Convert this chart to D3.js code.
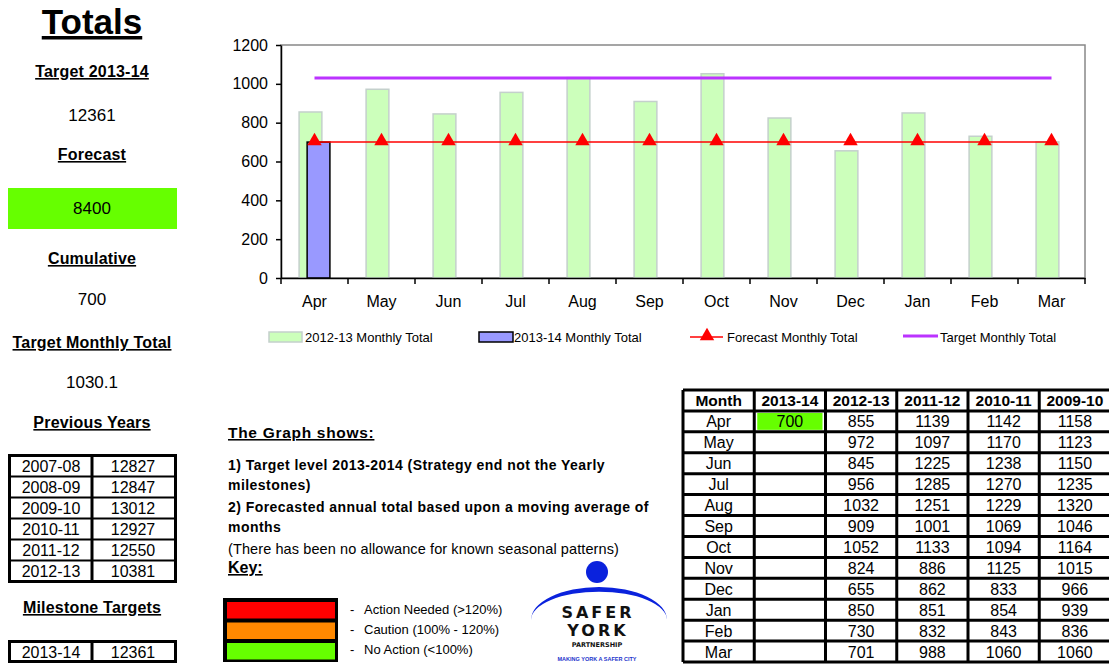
<!DOCTYPE html>
<html>
<head lang="en">
    <meta charset="UTF-8">
    <title>Totals</title>
    <style>
        body { margin: 0; background: #fff; }
        svg { font-family: "Liberation Sans", Arial, sans-serif; display: block; }
        .u { text-decoration: underline; }
    </style>
</head>
<body>
<svg width="1109" height="668"></svg>

<script src="https://cdnjs.cloudflare.com/ajax/libs/d3/7.8.5/d3.min.js"></script>
<script>
    // --- data ---
    var months = ["Apr","May","Jun","Jul","Aug","Sep","Oct","Nov","Dec","Jan","Feb","Mar"];
    var total2013_14 = [700];
    var total2012_13 = [855,972,845,956,1032,909,1052,824,655,850,730,701];
    var total2011_12 = [1139,1097,1225,1285,1251,1001,1133,886,862,851,832,988];
    var total2010_11 = [1142,1170,1238,1270,1229,1069,1094,1125,833,854,843,1060];
    var total2009_10 = [1158,1123,1150,1235,1320,1046,1164,1015,966,939,836,1060];
    var forecastMonthly = [700,700,700,700,700,700,700,700,700,700,700,700];
    var targetMonthly = 1030.1;
    var yTicks = [0,200,400,600,800,1000,1200];

    var prevYears = ["2007-08","2008-09","2009-10","2010-11","2011-12","2012-13"];
    var prevTotals = [12827,12847,13012,12927,12550,10381];
    var milestoneYears = ["2013-14"];
    var milestoneTargets = [12361];

    var target2013_14 = 12361, forecastTotal = 8400, cumulative = 700;

    var svg = d3.select("svg");

    // ---------- chart ----------
    var x = d3.scaleBand().domain(months).range([281, 1085]);
    var y = d3.scaleLinear().domain([0, 1200]).range([278, 45]);
    var bw = x.bandwidth();

    var chart = svg.append("g");

    // plot frame (top/right grey)
    chart.append("rect")
        .attr("x", 281).attr("y", y(1200))
        .attr("width", 1085 - 281).attr("height", y(0) - y(1200))
        .attr("fill", "none").attr("stroke", "#888").attr("stroke-width", 1.5);

    chart.selectAll(".g12")
        .data(total2012_13)
        .enter().append("rect")
        .attr("x", function(d, i) { return x(months[i]) + bw * 0.27; })
        .attr("y", function(d) { return y(d); })
        .attr("width", bw * 0.34)
        .attr("height", function(d) { return y(0) - y(d); })
        .attr("fill", "#ccffbb")
        .attr("stroke", "#c4d0cc").attr("stroke-width", 1.5);

    chart.selectAll(".b13")
        .data(total2013_14)
        .enter().append("rect")
        .attr("x", function(d, i) { return x(months[i]) + bw * 0.39; })
        .attr("y", function(d) { return y(d); })
        .attr("width", bw * 0.34)
        .attr("height", function(d) { return y(0) - y(d); })
        .attr("fill", "#9999ff")
        .attr("stroke", "#000").attr("stroke-width", 1.5);

    // target line
    chart.append("line")
        .attr("x1", x(months[0]) + bw / 2).attr("x2", x(months[11]) + bw / 2)
        .attr("y1", y(targetMonthly)).attr("y2", y(targetMonthly))
        .attr("stroke", "#bb33ff").attr("stroke-width", 3);

    // forecast line
    var line = d3.line()
        .x(function(d, i) { return x(months[i]) + bw / 2; })
        .y(function(d) { return y(d); });
    chart.append("path")
        .datum(forecastMonthly)
        .attr("d", line)
        .attr("fill", "none").attr("stroke", "#ff0000").attr("stroke-width", 1.5);

    var tri = d3.symbol().type(d3.symbolTriangle).size(90);
    chart.selectAll(".tri")
        .data(forecastMonthly)
        .enter().append("path")
        .attr("d", tri)
        .attr("transform", function(d, i) { return "translate(" + (x(months[i]) + bw / 2) + "," + (y(d) - 1) + ")"; })
        .attr("fill", "#ff0000");

    // axes
    var yAxis = chart.append("g")
        .attr("transform", "translate(281,0)")
        .call(d3.axisLeft(y).tickValues(yTicks).tickFormat(d3.format("d")).tickSize(5).tickSizeOuter(0).tickPadding(8));
    yAxis.selectAll("text").attr("font-size", 16).attr("font-family", "Liberation Sans, Arial").attr("fill", "#000");
    yAxis.selectAll("line").attr("stroke", "#000").attr("stroke-width", 1.5);
    yAxis.select(".domain").attr("stroke", "#000").attr("stroke-width", 1.5);

    var xAxis = chart.append("g")
        .attr("transform", "translate(0," + y(0) + ")")
        .call(d3.axisBottom(x).tickSize(0).tickPadding(18));
    xAxis.selectAll("text").attr("font-size", 16).attr("font-family", "Liberation Sans, Arial").attr("fill", "#000");
    xAxis.select(".domain").attr("stroke", "#000").attr("stroke-width", 1.5);
    chart.selectAll(".xt")
        .data(months.concat(["end"]))
        .enter().append("line")
        .attr("x1", function(d, i) { return i < 12 ? x(d) : 1085; })
        .attr("x2", function(d, i) { return i < 12 ? x(d) : 1085; })
        .attr("y1", y(0)).attr("y2", y(0) + 6)
        .attr("stroke", "#000").attr("stroke-width", 1.5);

    // legend
    var lg = chart.append("g").attr("font-size", 13).attr("fill", "#000");
    lg.append("rect").attr("x", 269).attr("y", 332).attr("width", 33).attr("height", 10)
        .attr("fill", "#ccffbb").attr("stroke", "#c4d0cc").attr("stroke-width", 1.5);
    lg.append("text").attr("x", 305).attr("y", 342).text("2012-13 Monthly Total");
    lg.append("rect").attr("x", 479).attr("y", 332).attr("width", 34).attr("height", 10)
        .attr("fill", "#9999ff").attr("stroke", "#000").attr("stroke-width", 1.5);
    lg.append("text").attr("x", 514).attr("y", 342).text("2013-14 Monthly Total");
    lg.append("line").attr("x1", 690).attr("x2", 723).attr("y1", 337).attr("y2", 337)
        .attr("stroke", "#ff0000").attr("stroke-width", 1.5);
    lg.append("path").attr("d", tri).attr("transform", "translate(707,336)").attr("fill", "#ff0000");
    lg.append("text").attr("x", 727).attr("y", 342).text("Forecast Monthly Total");
    lg.append("line").attr("x1", 903).attr("x2", 938).attr("y1", 336).attr("y2", 336)
        .attr("stroke", "#bb33ff").attr("stroke-width", 3);
    lg.append("text").attr("x", 940).attr("y", 342).text("Target Monthly Total");

    // ---------- left panel ----------
    var left = svg.append("g").attr("text-anchor", "middle").attr("fill", "#000");
    left.append("text").attr("class", "u").attr("x", 92).attr("y", 34)
        .attr("font-size", 35).attr("font-weight", "bold").text("Totals");

    var heads = [
        ["Target 2013-14", 77], ["Forecast", 160], ["Cumulative", 264],
        ["Target Monthly Total", 348], ["Previous Years", 428], ["Milestone Targets", 613]
    ];
    heads.forEach(function(h) {
        left.append("text").attr("class", "u").attr("x", 92).attr("y", h[1])
            .attr("font-size", 16).attr("font-weight", "bold").attr("letter-spacing", 0.2).text(h[0]);
    });

    left.append("rect").attr("x", 8).attr("y", 188).attr("width", 169).attr("height", 41).attr("fill", "#66ff00");
    [[target2013_14, 121], [forecastTotal, 214], [cumulative, 305], [targetMonthly, 388]].forEach(function(v) {
        left.append("text").attr("x", 92).attr("y", v[1]).attr("font-size", 17).text(v[0]);
    });

    function smallTable(g, labels, vals, top, rowH) {
        var n = labels.length;
        g.append("rect").attr("x", 9.5).attr("y", top).attr("width", 166).attr("height", rowH * n)
            .attr("fill", "#fff").attr("stroke", "#000").attr("stroke-width", 3);
        g.append("line").attr("x1", 92).attr("x2", 92).attr("y1", top).attr("y2", top + rowH * n)
            .attr("stroke", "#000").attr("stroke-width", 3);
        for (var i = 1; i < n; i++) {
            g.append("line").attr("x1", 9.5).attr("x2", 175.5)
                .attr("y1", top + rowH * i).attr("y2", top + rowH * i)
                .attr("stroke", "#000").attr("stroke-width", 2);
        }
        labels.forEach(function(l, i) {
            g.append("text").attr("x", 51).attr("y", top + rowH * i + rowH / 2 + 6).attr("font-size", 16).text(l);
            g.append("text").attr("x", 133).attr("y", top + rowH * i + rowH / 2 + 6).attr("font-size", 16).text(vals[i]);
        });
    }
    smallTable(left, prevYears, prevTotals, 455.5, 21);
    smallTable(left, milestoneYears, milestoneTargets, 641.5, 20);

    // ---------- notes ----------
    var notes = svg.append("g").attr("fill", "#000");
    notes.append("text").attr("class", "u").attr("x", 228).attr("y", 438)
        .attr("font-size", 15.5).attr("font-weight", "bold").attr("letter-spacing", 0.7).text("The Graph shows:");
    var lines = [
        ["1) Target level 2013-2014 (Strategy end not the Yearly", 470, true],
        ["milestones)", 490, true],
        ["2) Forecasted annual total based upon a moving average of", 512, true],
        ["months", 532, true],
        ["(There has been no allowance for known seasonal patterns)", 554, false]
    ];
    lines.forEach(function(l) {
        notes.append("text").attr("x", 228).attr("y", l[1]).attr("font-size", l[2] ? 14 : 14.5)
            .attr("font-weight", l[2] ? "bold" : "normal").attr("letter-spacing", l[2] ? 0.45 : 0.1).text(l[0]);
    });
    notes.append("text").attr("class", "u").attr("x", 228).attr("y", 573)
        .attr("font-size", 16).attr("font-weight", "bold").text("Key:");

    var keyCols = ["#ff0000", "#ff8800", "#66ff00"];
    var keyText = ["Action Needed (>120%)", "Caution  (100% - 120%)", "No Action  (<100%)"];
    notes.append("rect").attr("x", 223).attr("y", 598).attr("width", 115).attr("height", 64).attr("fill", "#000");
    keyCols.forEach(function(c, i) {
        notes.append("rect").attr("x", 227).attr("y", 602 + i * 20.5).attr("width", 108).attr("height", 16.5).attr("fill", c);
        notes.append("text").attr("x", 350).attr("y", 614 + i * 20).attr("font-size", 13).text("-");
        notes.append("text").attr("x", 364).attr("y", 614 + i * 20).attr("font-size", 13).text(keyText[i]);
    });

    // logo
    var logo = svg.append("g").attr("text-anchor", "middle");
    logo.append("circle").attr("cx", 597).attr("cy", 572).attr("r", 11).attr("fill", "#0a22dd");
    logo.append("path").attr("d", "M531,620 A68,33 0 0 1 667,620 A60,25 0 0 0 531,620 Z").attr("fill", "#0a22dd");
    logo.append("text").attr("x", 598).attr("y", 618).attr("font-family", "DejaVu Sans").attr("font-weight", "bold")
        .attr("font-size", 16).attr("letter-spacing", 3).attr("fill", "#111").text("SAFER");
    logo.append("text").attr("x", 598).attr("y", 636).attr("font-family", "DejaVu Sans").attr("font-weight", "bold")
        .attr("font-size", 16).attr("letter-spacing", 3).attr("fill", "#111").text("YORK");
    logo.append("text").attr("x", 597).attr("y", 647).attr("font-family", "DejaVu Sans").attr("font-weight", "bold")
        .attr("font-size", 6.5).attr("fill", "#111").text("PARTNERSHIP");
    logo.append("text").attr("x", 597).attr("y", 661).attr("font-weight", "bold")
        .attr("font-size", 5.5).attr("fill", "#2233cc").text("MAKING YORK A SAFER CITY");

    // ---------- monthly table ----------
    var cols = ["Month", "2013-14", "2012-13", "2011-12", "2010-11", "2009-10"];
    var colData = [months, total2013_14, total2012_13, total2011_12, total2010_11, total2009_10];
    var colX = d3.scaleBand().domain(cols).range([683, 1110.5]);
    var rowY = d3.scaleBand().domain(d3.range(13)).range([390, 662]);
    var tw = colX.bandwidth(), th = rowY.bandwidth();
    var tbl = svg.append("g").attr("text-anchor", "middle").attr("fill", "#000");

    tbl.append("rect").attr("x", colX("2013-14") + 3).attr("y", rowY(1) + 2)
        .attr("width", tw - 6).attr("height", th - 4).attr("fill", "#66ff00");

    for (var r = 0; r <= 13; r++) {
        var yy = r < 13 ? rowY(r) : 662;
        tbl.append("line").attr("x1", 683).attr("x2", 1109).attr("y1", yy).attr("y2", yy)
            .attr("stroke", "#000").attr("stroke-width", 3);
    }
    cols.forEach(function(c) {
        tbl.append("line").attr("x1", colX(c)).attr("x2", colX(c)).attr("y1", 390).attr("y2", 662)
            .attr("stroke", "#000").attr("stroke-width", 3);
    });
    cols.forEach(function(c, ci) {
        tbl.append("text").attr("x", colX(c) + tw / 2).attr("y", rowY(0) + th / 2 + 5.5)
            .attr("font-size", 15.5).attr("font-weight", "bold").text(c);
        colData[ci].forEach(function(v, ri) {
            tbl.append("text").attr("x", colX(c) + tw / 2).attr("y", rowY(ri + 1) + th / 2 + 6)
                .attr("font-size", 16).text(v);
        });
    });
</script>
</body>
</html>
